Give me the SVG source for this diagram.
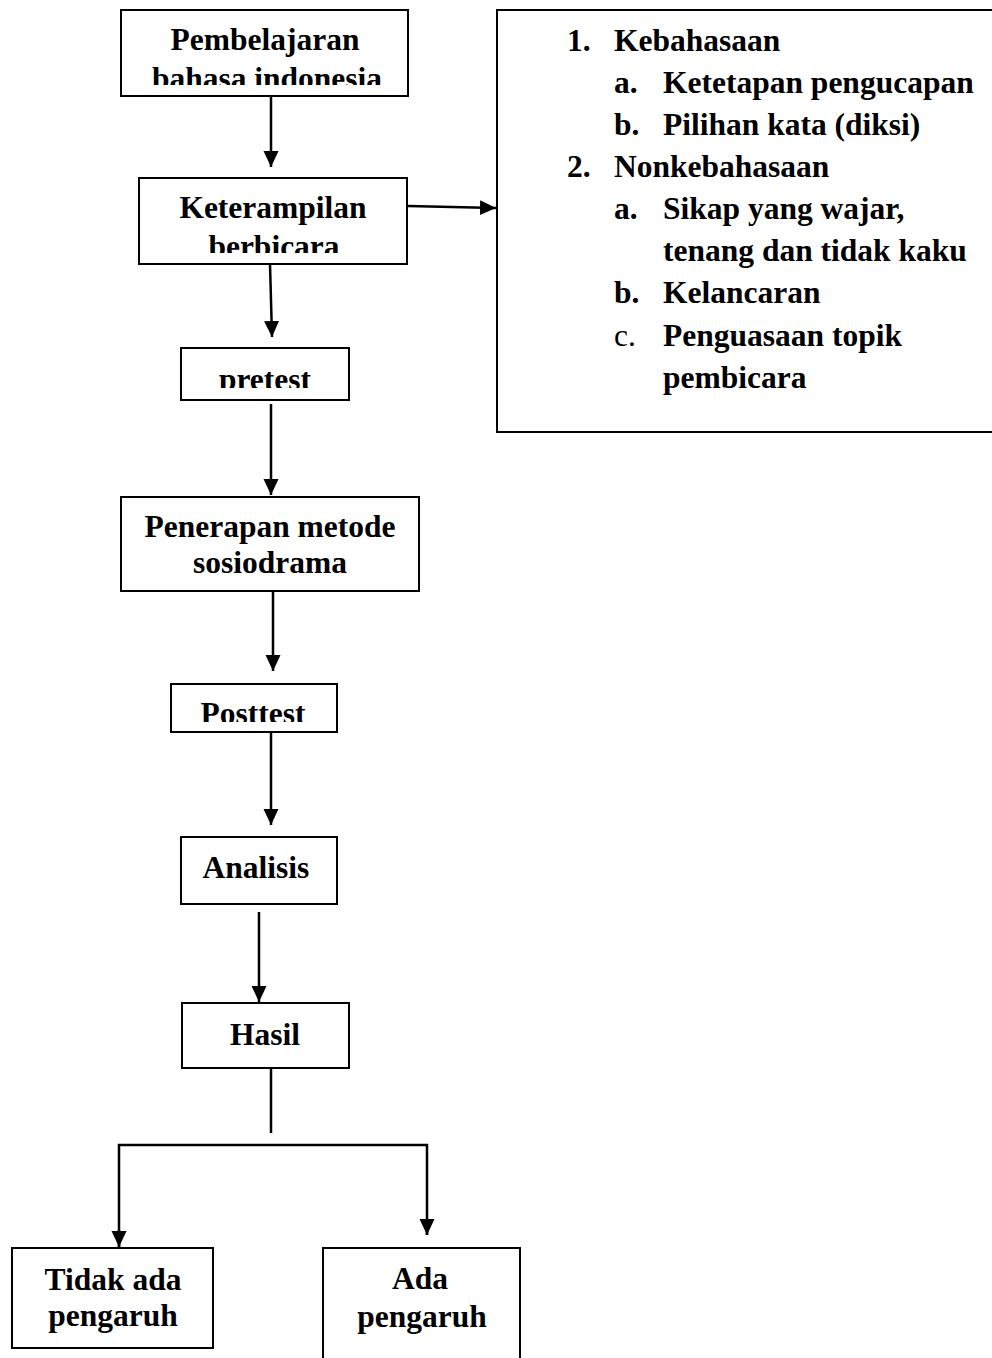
<svg xmlns="http://www.w3.org/2000/svg" width="992" height="1358" viewBox="0 0 992 1358">
<style>
.box{fill:#fff;stroke:#000;stroke-width:2}
.t{font-family:"Liberation Serif","Times New Roman",serif;font-size:31.5px;font-weight:bold;fill:#000}
.c{text-anchor:middle}
.n{font-weight:normal}
.ln{fill:none;stroke:#000;stroke-width:2.5}
</style>
<defs>
<marker id="ah" markerWidth="16" markerHeight="16" refX="16" refY="8" orient="auto" markerUnits="userSpaceOnUse">
<path d="M0,0.5 L16,8 L0,15.5 Z" fill="#000"/>
</marker>
<clipPath id="c1"><rect x="121" y="10" width="287" height="75"/></clipPath>
<clipPath id="c2"><rect x="139" y="178" width="268" height="75"/></clipPath>
<clipPath id="c3"><rect x="181" y="348" width="168" height="40"/></clipPath>
<clipPath id="c4"><rect x="171" y="684" width="166" height="38"/></clipPath>
</defs>
<g id="connectors">
<line class="ln" x1="271" y1="96" x2="271" y2="167" marker-end="url(#ah)"/>
<line class="ln" x1="408" y1="206" x2="496" y2="208" marker-end="url(#ah)"/>
<line class="ln" x1="270" y1="264" x2="272" y2="337" marker-end="url(#ah)"/>
<line class="ln" x1="271" y1="404" x2="271" y2="495" marker-end="url(#ah)"/>
<line class="ln" x1="273" y1="591" x2="273" y2="671" marker-end="url(#ah)"/>
<line class="ln" x1="271" y1="732" x2="271" y2="825" marker-end="url(#ah)"/>
<line class="ln" x1="259" y1="912" x2="259" y2="1002" marker-end="url(#ah)"/>
<line class="ln" x1="271" y1="1068" x2="271" y2="1133"/>
<polyline class="ln" points="119,1247 119,1145 427,1145 427,1235"/>
<line class="ln" x1="119" y1="1230" x2="119" y2="1247" marker-end="url(#ah)"/>
<line class="ln" x1="427" y1="1220" x2="427" y2="1235" marker-end="url(#ah)"/>
</g>
<g id="n1">
<rect class="box" x="121" y="10" width="287" height="86"/>
<g clip-path="url(#c1)">
<text class="t c" x="265" y="50">Pembelajaran</text>
<text class="t c" x="267" y="89">bahasa indonesia</text>
</g>
</g>
<g id="n2">
<rect class="box" x="139" y="178" width="268" height="86"/>
<g clip-path="url(#c2)">
<text class="t c" x="273" y="218">Keterampilan</text>
<text class="t c" x="274" y="257">berbicara</text>
</g>
</g>
<g id="n3">
<rect class="box" x="497" y="10" width="500" height="422"/>
<text class="t" x="567" y="50.5">1.</text>
<text class="t" x="614" y="50.5">Kebahasaan</text>
<text class="t" x="614" y="92.5">a.</text>
<text class="t" x="663" y="92.5">Ketetapan pengucapan</text>
<text class="t" x="614" y="134.5">b.</text>
<text class="t" x="663" y="134.5">Pilihan kata (diksi)</text>
<text class="t" x="567" y="176.5">2.</text>
<text class="t" x="614" y="176.5">Nonkebahasaan</text>
<text class="t" x="614" y="219">a.</text>
<text class="t" x="663" y="219">Sikap yang wajar,</text>
<text class="t" x="663" y="261">tenang dan tidak kaku</text>
<text class="t" x="614" y="303">b.</text>
<text class="t" x="663" y="303">Kelancaran</text>
<text class="t n" x="614" y="345.5">c.</text>
<text class="t" x="663" y="345.5">Penguasaan topik</text>
<text class="t" x="663" y="387.5">pembicara</text>
</g>
<g id="n4">
<rect class="box" x="181" y="348" width="168" height="52"/>
<g clip-path="url(#c3)">
<text class="t c" x="265" y="390">pretest</text>
</g>
</g>
<g id="n5">
<rect class="box" x="121" y="497" width="298" height="94"/>
<text class="t c" x="270" y="537">Penerapan metode</text>
<text class="t c" x="270" y="573">sosiodrama</text>
</g>
<g id="n6">
<rect class="box" x="171" y="684" width="166" height="48"/>
<g clip-path="url(#c4)">
<text class="t c" x="253" y="724">Posttest</text>
</g>
</g>
<g id="n7">
<rect class="box" x="181" y="837" width="156" height="67"/>
<text class="t c" x="256" y="878">Analisis</text>
</g>
<g id="n8">
<rect class="box" x="182" y="1003" width="167" height="65"/>
<text class="t c" x="265" y="1045">Hasil</text>
</g>
<g id="n9">
<rect class="box" x="12" y="1248" width="201" height="100"/>
<text class="t c" x="113" y="1290">Tidak ada</text>
<text class="t c" x="113" y="1326">pengaruh</text>
</g>
<g id="n10">
<rect class="box" x="323" y="1248" width="197" height="130"/>
<text class="t c" x="420" y="1289">Ada</text>
<text class="t c" x="422" y="1327">pengaruh</text>
</g>
</svg>
